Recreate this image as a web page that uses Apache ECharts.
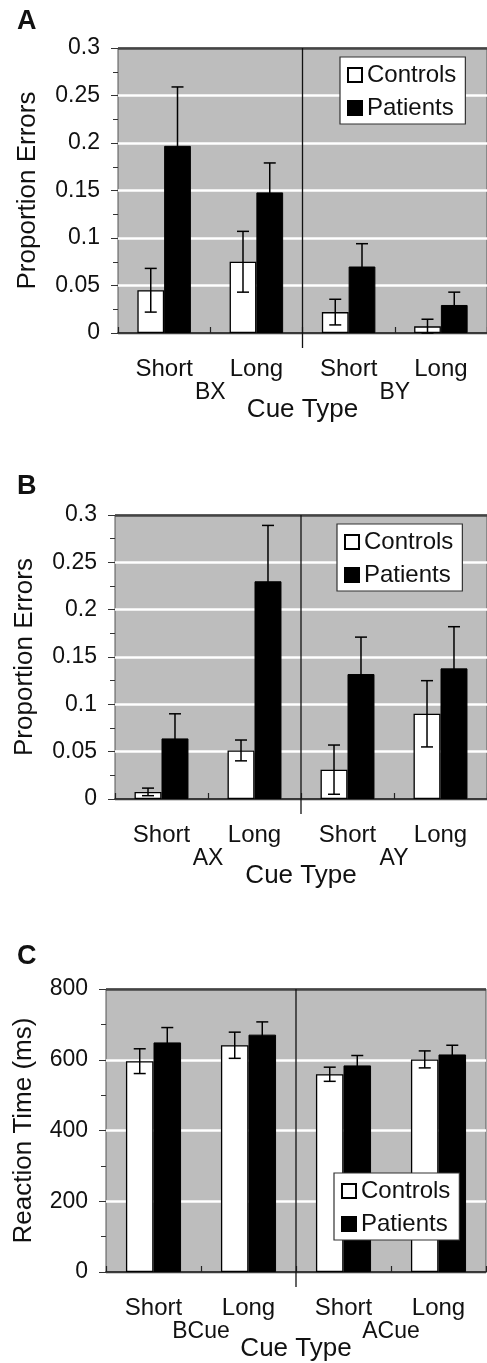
<!DOCTYPE html>
<html>
<head>
<meta charset="utf-8">
<script src="https://cdn.jsdelivr.net/npm/echarts@6/dist/echarts.min.js"></script>
<style>
html,body{margin:0;padding:0;background:#fff;}
#chart{width:487px;height:1363px;}
</style>
</head>
<body>
<div id="chart"></div>
<script>
// ---- data ----
const cueLabels = ['Short', 'Long', 'Short', 'Long'];
const groupA = ['BX', 'BY'];
const groupB = ['AX', 'AY'];
const groupC = ['BCue', 'ACue'];
const seriesNames = ['Controls', 'Patients'];

const aControls = [0.045, 0.075, 0.022, 0.007];
const aControlsErr = [0.023, 0.032, 0.0135, 0.0075];
const aPatients = [0.197, 0.148, 0.070, 0.0295];
const aPatientsErr = [0.062, 0.031, 0.024, 0.0135];

const bControls = [0.0075, 0.0513, 0.031, 0.090];
const bControlsErr = [0.004, 0.011, 0.026, 0.035];
const bPatients = [0.064, 0.230, 0.132, 0.138];
const bPatientsErr = [0.026, 0.059, 0.039, 0.044];

const cControls = [596, 641, 559, 601];
const cControlsErr = [35, 37, 20, 24];
const cPatients = [649, 671, 584, 615];
const cPatientsErr = [42, 36, 28, 26];

const yTitleErr = 'Proportion Errors';
const yTitleRT = 'Reaction Time (ms)';
const xTitle = 'Cue Type';
const panelLetters = ['A', 'B', 'C'];

// ---- styling ----
const FONT = '"Liberation Sans", Arial, sans-serif';
const GRAY = '#bdbdbd';
const INK = '#111';
const BARW = 0.29;

const panels = [
  {letter: panelLetters[0], grid: {left: 118, top: 48, width: 376, height: 285}, min: 0, max: 0.3, interval: 0.05,
   groups: groupA, ctrl: aControls, ctrlErr: aControlsErr, pat: aPatients, patErr: aPatientsErr,
   yTitle: yTitleErr, nameGap: 77, titleTop: 8, legend: {left: 340, top: 57}},
  {letter: panelLetters[1], grid: {left: 115, top: 515, width: 376, height: 284}, min: 0, max: 0.3, interval: 0.05,
   groups: groupB, ctrl: bControls, ctrlErr: bControlsErr, pat: bPatients, patErr: bPatientsErr,
   yTitle: yTitleErr, nameGap: 77, titleTop: 473, legend: {left: 337, top: 524}},
  {letter: panelLetters[2], grid: {left: 106, top: 989, width: 380, height: 285}, min: 0, max: 800, interval: 200,
   groups: groupC, ctrl: cControls, ctrlErr: cControlsErr, pat: cPatients, patErr: cPatientsErr,
   yTitle: yTitleRT, nameGap: 69, titleTop: 943, legend: {left: 334, top: 1173}}
];

function errRender(sign) {
  return function (params, api) {
    const x = api.value(0), v = api.value(1), e = api.value(2);
    const band = api.size([1, 0])[0];
    const off = sign * band * BARW / 2;
    const top = api.coord([x, v + e]);
    const bot = api.coord([x, Math.max(0, v - e)]);
    const cx = top[0] + off;
    const hw = 6;
    const st = {stroke: '#000', lineWidth: 1.5};
    return {
      type: 'group',
      children: [
        {type: 'line', shape: {x1: cx, y1: top[1], x2: cx, y2: bot[1]}, style: st},
        {type: 'line', shape: {x1: cx - hw, y1: top[1], x2: cx + hw, y2: top[1]}, style: st},
        {type: 'line', shape: {x1: cx - hw, y1: bot[1], x2: cx + hw, y2: bot[1]}, style: st}
      ]
    };
  };
}

// divider between cue groups: from plot top down to 15px below the axis
function dividerRender(min, max) {
  return function (params, api) {
    const i = api.value(0);
    const band = api.size([1, 0])[0];
    const x = api.coord([i, max])[0] + band / 2;
    const y1 = api.coord([i, max])[1];
    const y2 = api.coord([i, min])[1] + 15;
    return {type: 'line', shape: {x1: x, y1: y1, x2: x, y2: y2}, style: {stroke: INK, lineWidth: 1.3}};
  };
}

const option = {
  animation: false,
  textStyle: {fontFamily: FONT},
  title: [], grid: [], xAxis: [], yAxis: [], series: [], legend: []
};

panels.forEach((p, g) => {
  option.title.push({
    text: p.letter, left: 17, top: p.titleTop, padding: 0,
    textStyle: {fontFamily: FONT, fontSize: 27, fontWeight: 'bold', color: INK}
  });
  option.grid.push(Object.assign({
    show: true, backgroundColor: GRAY, borderColor: '#555', borderWidth: 1, containLabel: false
  }, p.grid));
  const nLines = Math.round((p.max - p.min) / p.interval) + 1;
  const lineColors = [];
  for (let i = 0; i < nLines; i++) lineColors.push(i === 0 ? GRAY : (i === nLines - 1 ? '#444' : '#ffffff'));
  option.yAxis.push({
    type: 'value', gridIndex: g, min: p.min, max: p.max, interval: p.interval,
    axisLine: {show: false},
    axisTick: {show: true, length: 7, lineStyle: {color: '#333', width: 1}},
    minorTick: {show: true, splitNumber: 2, length: 5, lineStyle: {color: '#333', width: 1}},
    minorSplitLine: {show: false},
    splitLine: {show: true, lineStyle: {color: lineColors, width: 2.5}},
    axisLabel: {fontFamily: FONT, fontSize: 23, margin: 18, color: INK},
    name: p.yTitle, nameLocation: 'middle', nameGap: p.nameGap,
    nameTextStyle: {fontFamily: FONT, fontSize: 26, lineHeight: 26, color: INK}
  });
  option.xAxis.push({
    type: 'category', gridIndex: g, data: cueLabels, position: 'bottom',
    axisLine: {show: true, lineStyle: {color: INK, width: 1.5}},
    axisTick: {show: true, inside: true, length: 6, interval: 0, lineStyle: {color: '#222', width: 1.2}},
    axisLabel: {fontFamily: FONT, fontSize: 24, lineHeight: 24, margin: 24, color: INK, interval: 0},
    splitLine: {show: false},
    name: xTitle, nameLocation: 'middle', nameGap: 64,
    nameTextStyle: {fontFamily: FONT, fontSize: 26, lineHeight: 26, color: INK}
  });
  option.xAxis.push({
    type: 'category', gridIndex: g, data: p.groups, position: 'bottom',
    axisLine: {show: false},
    axisTick: {show: false},
    splitLine: {show: false},
    axisLabel: {fontFamily: FONT, fontSize: 23, lineHeight: 23, margin: 48, color: INK, interval: 0}
  });
  const xi = 2 * g;
  option.series.push({
    name: seriesNames[0], type: 'bar', xAxisIndex: xi, yAxisIndex: g, data: p.ctrl,
    barWidth: (BARW * 100) + '%', barGap: '0%',
    itemStyle: {color: '#ffffff', borderColor: '#000', borderWidth: 1.3}, z: 2
  });
  option.series.push({
    name: seriesNames[1], type: 'bar', xAxisIndex: xi, yAxisIndex: g, data: p.pat,
    barWidth: (BARW * 100) + '%', barGap: '0%',
    itemStyle: {color: '#000000', borderColor: '#000', borderWidth: 1}, z: 2
  });
  option.series.push({
    type: 'custom', xAxisIndex: xi, yAxisIndex: g, z: 3,
    data: p.ctrl.map((v, i) => [i, v, p.ctrlErr[i]]),
    encode: {x: 0, y: 1}, renderItem: errRender(-1)
  });
  option.series.push({
    type: 'custom', xAxisIndex: xi, yAxisIndex: g, z: 3,
    data: p.pat.map((v, i) => [i, v, p.patErr[i]]),
    encode: {x: 0, y: 1}, renderItem: errRender(1)
  });
  option.series.push({
    type: 'custom', xAxisIndex: xi + 1, yAxisIndex: g, z: 3, clip: false, silent: true,
    data: p.groups.slice(0, -1).map((_, i) => [i, p.max]),
    encode: {x: 0, y: 1}, renderItem: dividerRender(p.min, p.max)
  });
  option.legend.push({
    left: p.legend.left, top: p.legend.top, orient: 'vertical', z: 10,
    backgroundColor: '#ffffff', borderColor: '#333', borderWidth: 1.2,
    padding: [6, 9, 4, 7], itemWidth: 14, itemHeight: 14, itemGap: 9,
    icon: 'rect', selectedMode: false,
    textStyle: {fontFamily: FONT, fontSize: 24, lineHeight: 24, color: INK},
    data: seriesNames
  });
});

const chart = echarts.init(document.getElementById('chart'), null, {renderer: 'canvas'});
chart.setOption(option);
</script>
</body>
</html>
